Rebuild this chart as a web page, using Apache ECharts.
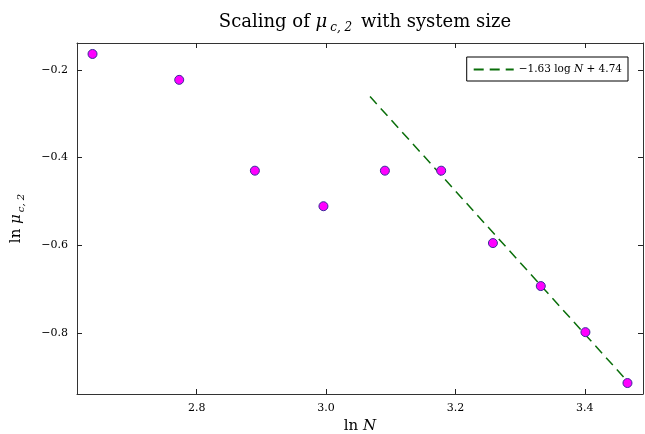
<!DOCTYPE html>
<html>
<head>
<meta charset="utf-8">
<script src="https://cdn.jsdelivr.net/npm/echarts@6/dist/echarts.min.js"></script>
<style>html,body{margin:0;padding:0;background:#fff}#c{width:645px;height:434px}</style>
</head>
<body>
<div id="c"></div>
<script>
// Data
const lnN = [2.639, 2.773, 2.890, 2.996, 3.091, 3.178, 3.258, 3.332, 3.401, 3.466];
const lnMu = [-0.164, -0.223, -0.430, -0.511, -0.430, -0.430, -0.595, -0.693, -0.798, -0.914];
const fitX = [3.068, 3.466];
const fitY = [-0.261, -0.910];
const xTicks = [2.8, 3.0, 3.2, 3.4];
const yTicks = [-0.8, -0.6, -0.4, -0.2];
const fitName = 'fit';

const FONT = 'DejaVu Serif';
const fmt = v => (v < 0 ? '\u2212' : '') + Math.abs(v).toFixed(1);
const xMin = 2.615, xMax = 3.490, yMin = -0.939, yMax = -0.139;

const chart = echarts.init(document.getElementById('c'), null, {renderer: 'canvas'});
const axisLine = {show: true, onZero: false, lineStyle: {color: '#333', width: 1}};
const tick = vals => ({show: true, inside: true, length: 5, customValues: vals, lineStyle: {color: '#222', width: 1}});
chart.setOption({
  animation: false,
  backgroundColor: '#fff',
  title: {
    text: 'Scaling of {i|\u03bc}{sub|c, 2} with system size',
    left: 360, top: 5, textAlign: 'center',
    textStyle: {
      fontFamily: FONT, fontSize: 18, fontWeight: 'normal', color: '#000',
      rich: {
        i: {fontFamily: FONT, fontSize: 18, fontStyle: 'italic', color: '#000'},
        sub: {fontFamily: FONT, fontSize: 12, fontStyle: 'italic', color: '#000', verticalAlign: 'bottom', padding: [12, 3, 0, 3]}
      }
    }
  },
  grid: {left: 77, right: 2, top: 43, bottom: 40, containLabel: false, outerBoundsMode: 'none'},
  legend: {
    data: [fitName],
    right: 17, top: 57,
    orient: 'vertical',
    backgroundColor: '#fff',
    borderColor: '#000', borderWidth: 1, borderRadius: 0,
    padding: [7, 6, 6, 6],
    itemWidth: 40, itemHeight: 10, itemGap: 0,
    itemStyle: {opacity: 0},
    formatter: () => '\u22121.63 log {i|N} + 4.74',
    textStyle: {fontFamily: FONT, fontSize: 10.5, color: '#000', rich: {i: {fontFamily: FONT, fontSize: 10.5, fontStyle: 'italic', color: '#000'}}}
  },
  xAxis: [{
    type: 'value', min: xMin, max: xMax, position: 'bottom',
    name: 'ln {i|N}', nameLocation: 'middle', nameGap: 24,
    nameTextStyle: {fontFamily: FONT, fontSize: 15, color: '#000', rich: {i: {fontFamily: FONT, fontSize: 15, fontStyle: 'italic', color: '#000'}}},
    axisLine: axisLine, axisTick: tick(xTicks),
    axisLabel: {show: true, customValues: xTicks, formatter: fmt, fontFamily: FONT, fontSize: 11, color: '#000', margin: 9},
    splitLine: {show: false}
  }, {
    type: 'value', min: xMin, max: xMax, position: 'top',
    axisLine: axisLine, axisTick: tick(xTicks), axisLabel: {show: false}, splitLine: {show: false}
  }],
  yAxis: [{
    type: 'value', min: yMin, max: yMax, position: 'left',
    name: 'ln {i|\u03bc}{sub|c, 2}', nameLocation: 'middle', nameGap: 51, nameRotate: 90,
    nameTextStyle: {fontFamily: FONT, fontSize: 15, color: '#000', rich: {
      i: {fontFamily: FONT, fontSize: 15, fontStyle: 'italic', color: '#000'},
      sub: {fontFamily: FONT, fontSize: 10, fontStyle: 'italic', color: '#000', verticalAlign: 'bottom', padding: [9, 0, 0, 2]}
    }},
    axisLine: axisLine, axisTick: tick(yTicks),
    axisLabel: {show: true, customValues: yTicks, formatter: fmt, fontFamily: FONT, fontSize: 11, color: '#000', margin: 9},
    splitLine: {show: false}
  }, {
    type: 'value', min: yMin, max: yMax, position: 'right',
    axisLine: axisLine, axisTick: tick(yTicks), axisLabel: {show: false}, splitLine: {show: false}
  }],
  series: [{
    name: fitName, type: 'line', xAxisIndex: 0, yAxisIndex: 0, z: 2,
    data: fitX.map((x, i) => [x, fitY[i]]),
    showSymbol: false, symbol: 'none',
    lineStyle: {color: '#0a6e0a', width: 1.5, type: [10, 6]},
    itemStyle: {color: '#0a6e0a'}
  }, {
    name: 'data', type: 'scatter', xAxisIndex: 0, yAxisIndex: 0, z: 3,
    data: lnN.map((x, i) => [x, lnMu[i]]),
    symbol: 'circle', symbolSize: 9,
    itemStyle: {color: '#ff00ff', borderColor: '#3a2a9a', borderWidth: 1, opacity: 1}
  }]
});
</script>
</body>
</html>
